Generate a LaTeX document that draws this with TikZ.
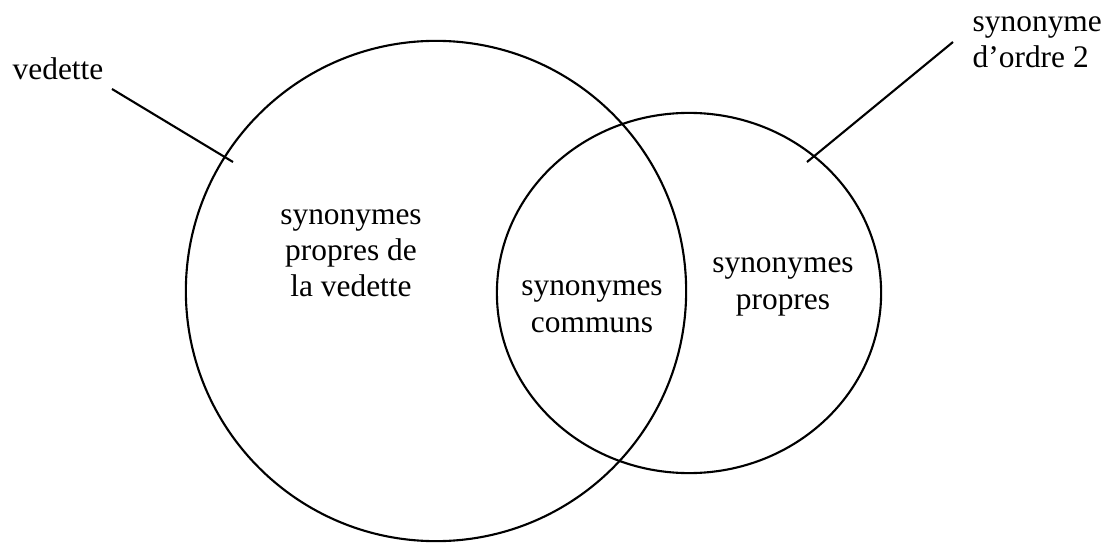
\documentclass[tikz,border=0pt]{standalone}
\usepackage{fontspec}
\setmainfont{Liberation Serif}
\usetikzlibrary{shapes.geometric}
\begin{document}
\begin{tikzpicture}[x=0.01cm,y=-0.01cm,
  set/.style={draw=black,line width=0.6pt,inner sep=0pt},
  lbl/.style={inner sep=0pt,font=\fontsize{8.93pt}{10.24pt}\selectfont},
  leader/.style={draw=black,line width=0.6pt}]
\useasboundingbox (0,0) rectangle (1104,543);
\node[set,circle,minimum size=5cm] (big) at (436,291) {};
\node[set,ellipse,minimum width=3.84cm,minimum height=3.6cm] (small) at (689,293) {};
\node[lbl,anchor=base west] (ved) at (12,80) {vedette};
\node[lbl,anchor=base west,align=left] (syn2) at (972,68) {synonyme\\d’ordre 2};
\node[lbl,anchor=base,align=center] (propv) at (351,297) {synonymes\\propres de\\la vedette};
\node[lbl,anchor=base,align=center] (comm) at (592,332) {synonymes\\communs};
\node[lbl,anchor=base,align=center] (prop) at (783,309) {synonymes\\propres};
\coordinate (vedA) at (112,89);
\coordinate (vedB) at (233,162);
\coordinate (synA) at (953,42);
\coordinate (synB) at (807,162);
\draw[leader] (vedA) -- (vedB);
\draw[leader] (synA) -- (synB);
\end{tikzpicture}
\end{document}
